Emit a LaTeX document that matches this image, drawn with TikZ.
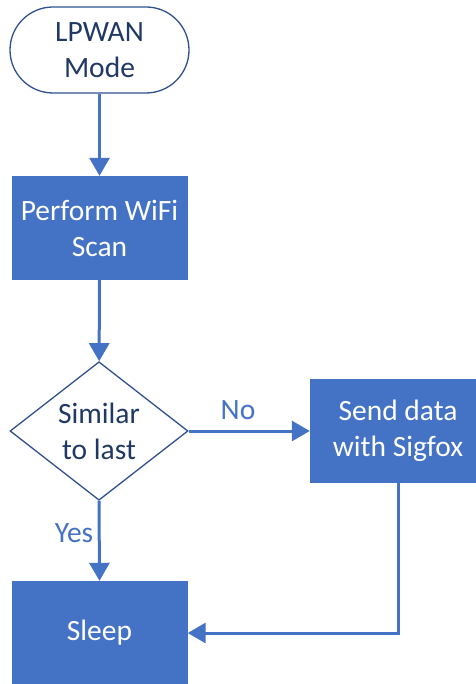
\documentclass[tikz,border=0pt]{standalone}
\usepackage{fontspec}
\setmainfont{Carlito}
\usetikzlibrary{shapes.geometric,arrows.meta}
\definecolor{accent}{HTML}{4472C4}
\definecolor{edge}{HTML}{2F528F}
\definecolor{ink}{HTML}{203864}
\begin{document}
\begin{tikzpicture}[x=1pt,y=-1pt,
  every node/.style={font=\fontsize{29.5}{36}\selectfont, align=center},
  terminal/.style={draw=edge, line width=1.3pt, fill=white, text=ink,
    rounded corners=43pt, minimum width=179pt, minimum height=86pt, inner sep=0pt},
  process/.style={fill=accent, text=white, minimum width=176pt,
    minimum height=104pt, inner sep=0pt},
  decision/.style={diamond, draw=edge, line width=1.3pt, fill=white, text=ink,
    minimum width=178pt, minimum height=133pt, inner sep=0pt},
  flow/.style={draw=accent, line width=3pt,
    -{Triangle[width=20pt,length=18pt]}},
  lbl/.style={text=accent, inner sep=0pt}]
  \useasboundingbox (0,0) rectangle (475,684);

  % flowchart blocks
  \node[terminal] (start) at (99.5,50) {LPWAN\\Mode};
  \node[process]  (scan)  at (99.5,228) {Perform WiFi\\Scan};
  \node[decision] (same)  at (99,431) {Similar\\to last};
  \node[process]  (send)  at (398,431) {Send data\\with Sigfox};
  \node[process]  (sleep) at (99.5,633) {Sleep};

  % connectors
  \draw[flow] (start) -- (scan);
  \draw[flow] (scan) -- (same);
  \draw[flow] (same.east) -- (send.west);
  \draw[flow] (same.south) -- (sleep.north);
  \draw[flow] (send.south) |- (sleep.east);

  % branch labels
  \node[lbl] (no)  at (238,410) {No};
  \node[lbl] (yes) at (74,533) {Yes};
\end{tikzpicture}
\end{document}
